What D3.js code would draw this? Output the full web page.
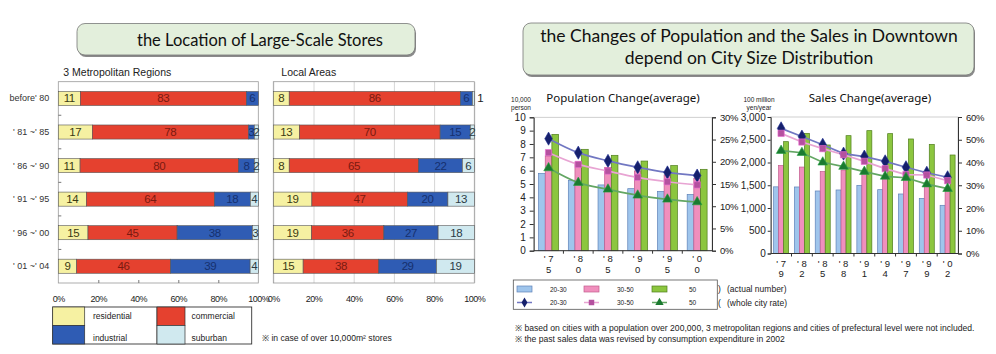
<!DOCTYPE html>
<html>
<head>
<meta charset="utf-8">
<script src="https://cdn.jsdelivr.net/npm/d3@7"></script>
<style>
  body { margin: 0; background: #fff; }
  svg { display: block; font-family: "Liberation Sans", Arial, sans-serif; }
</style>
</head>
<body>
<div id="chart"></div>
<script>
// ---- data: location of large-scale stores (%)
var periods = ["before' 80", "' 81 ~' 85", "' 86 ~' 90", "' 91 ~' 95", "' 96 ~' 00", "' 01 ~' 04"];
var locations = ["residential", "commercial", "industrial", "suburban"];
var metroShares = [[11, 83, 6, 0], [17, 78, 3, 2], [11, 80, 8, 2], [14, 64, 18, 4], [15, 45, 38, 3], [9, 46, 39, 4]];
var localShares = [[8, 86, 6, 1], [13, 70, 15, 2], [8, 65, 22, 6], [19, 47, 20, 13], [19, 36, 27, 18], [15, 38, 29, 19]];
var shareTicks = [0, 0.2, 0.4, 0.6, 0.8, 1];

// ---- data: population / sales by city size (10,000 persons)
var sizeClasses = ["20-30", "30-50", "50"];
var popYears = ["75", "80", "85", "90", "95", "00"];
var popActual2030 = [5.8, 5.28, 4.93, 4.65, 4.45, 4.22];
var popActual3050 = [7.1, 6.65, 6.25, 5.98, 5.68, 5.43];
var popActual50 = [8.72, 7.6, 7.15, 6.72, 6.38, 6.1];
var popRate2030 = [25.2, 22.05, 20.2, 18.75, 17.6, 16.9];
var popRate3050 = [22.05, 19.4, 17.9, 16.5, 15.5, 14.8];
var popRate50 = [18.6, 15.3, 13.8, 12.45, 11.55, 10.95];

var salesYears = ["79", "82", "85", "88", "91", "94", "97", "99", "02"];
var salesActual2030 = [1465, 1462, 1374, 1396, 1498, 1403, 1308, 1212, 1059];
var salesActual3050 = [1935, 1900, 1800, 1835, 1830, 1690, 1630, 1480, 1360];
var salesActual50 = [2458, 2641, 2385, 2590, 2700, 2634, 2517, 2399, 2165];
var salesRate2030 = [55.0, 51.4, 47.8, 43.9, 42.6, 40.5, 37.9, 35.5, 33.5];
var salesRate3050 = [52.8, 49.0, 46.1, 43.4, 40.5, 37.3, 34.7, 34.5, 32.0];
var salesRate50 = [45.2, 44.3, 40.1, 38.2, 36.0, 33.9, 33.3, 30.5, 28.5];

// styles
var locFill = ["#f6f1a2", "#e5412f", "#2f5cb4", "#d0e9ef"];
var locText = ["#3a3a12", "#7a1a10", "#16306e", "#2a3a44"];
var barFill = ["#9fc5ec", "#f08fbd", "#8cc63f"];
var barStroke = ["#5f82b8", "#c25c8e", "#4f7d1c"];
var lineColor = ["#7177c2", "#e8a4d3", "#63a663"];
var markColor = ["#16206c", "#b4519f", "#1b7a30"];
var markSymbol = [d3.symbolDiamond, d3.symbolSquare, d3.symbolTriangle];

var svg = d3.select('#chart').append('svg')
    .attr('width', 996).attr('height', 354);

// title boxes
function titleBox(x, y, w, h, cx, lines, lineY, size) {
    svg.append('rect')
        .attr('x', x + 1).attr('y', y + 2).attr('width', w).attr('height', h)
        .attr('rx', 8).attr('fill', '#8a8a8a');
    svg.append('rect')
        .attr('x', x).attr('y', y).attr('width', w).attr('height', h)
        .attr('rx', 8).attr('fill', '#e3efdc').attr('stroke', '#777').attr('stroke-width', 0.8);
    lines.forEach(function(t, i) {
        svg.append('text')
            .attr('x', cx).attr('y', lineY[i])
            .attr('text-anchor', 'middle').attr('dominant-baseline', 'central')
            .style('font-family', 'Lato, "Noto Sans", sans-serif').style('font-size', size + 'px')
            .attr('fill', '#111').text(t);
    });
}
titleBox(77, 23.5, 338, 31.5, 260, ["the Location of Large-Scale Stores"], [40], 16.5);
titleBox(523, 23, 451, 52, 749, ["the Changes of Population and the Sales in Downtown", "depend on City Size Distribution"], [35.8, 57.2], 17.5);

// ---- stacked 100% bars
function StackedPanel(rows, opt) {
    var data = rows.map(function(r, i) {
        var o = { period: periods[i] };
        locations.forEach(function(k, j) { o[k] = r[j]; });
        return o;
    });
    var series = d3.stack().keys(locations).offset(d3.stackOffsetExpand)(data);

    var x = d3.scaleLinear().domain([0, 1]).range([opt.left, opt.right]);
    var y = d3.scaleBand().domain(periods).range([opt.top, opt.bottom])
        .paddingInner(0.58).paddingOuter(0.29);
    var g = svg.append('g');

    if (opt.grid) {
        g.append('g')
            .attr('transform', 'translate(0,' + opt.bottom + ')')
            .call(d3.axisBottom(x).tickValues(shareTicks).tickSize(-(opt.bottom - opt.top)).tickFormat(''))
            .call(function(a) {
                a.select('.domain').remove();
                a.selectAll('line').attr('stroke', '#d6d6d6');
            });
    }

    g.append('rect')
        .attr('x', opt.left).attr('y', opt.top)
        .attr('width', opt.right - opt.left).attr('height', opt.bottom - opt.top)
        .attr('fill', 'none').attr('stroke', '#9a9a9a').attr('stroke-width', 0.8);

    if (!opt.grid) {
        // small inside ticks
        g.append('g')
            .attr('transform', 'translate(0,' + opt.bottom + ')')
            .call(d3.axisBottom(x).tickValues(shareTicks.slice(1, 5)).tickSize(-3).tickFormat(''))
            .call(function(a) { a.select('.domain').remove(); a.selectAll('line').attr('stroke', '#777'); });
        var step = y.step();
        g.selectAll('.ytick').data(periods.slice(1)).enter().append('line')
            .attr('x1', opt.left).attr('x2', opt.left + 3)
            .attr('y1', function(d) { return y(d) - step * 0.29; })
            .attr('y2', function(d) { return y(d) - step * 0.29; })
            .attr('stroke', '#777');
    }

    series.forEach(function(s, k) {
        g.selectAll(null).data(s).enter().append('rect')
            .attr('x', function(d) { return x(d[0]); })
            .attr('y', function(d) { return y(d.data.period); })
            .attr('width', function(d) { return x(d[1]) - x(d[0]); })
            .attr('height', y.bandwidth())
            .attr('fill', locFill[k]).attr('stroke', '#555').attr('stroke-width', 0.6);

        g.selectAll(null).data(s.filter(function(d) { return d.data[s.key] > 0; })).enter().append('text')
            .attr('x', function(d) {
                return d.data[s.key] <= 1 ? x(d[1]) + 3 : (x(d[0]) + x(d[1])) / 2;
            })
            .attr('y', function(d) { return y(d.data.period) + y.bandwidth() / 2; })
            .attr('text-anchor', function(d) { return d.data[s.key] <= 1 ? 'start' : 'middle'; })
            .attr('dominant-baseline', 'central')
            .style('font-size', '11.5px').style('letter-spacing', '-0.4px')
            .attr('fill', function(d) { return d.data[s.key] <= 1 ? '#222' : locText[k]; })
            .text(function(d) { return d.data[s.key]; });
    });

    g.append('g')
        .attr('transform', 'translate(0,' + opt.bottom + ')')
        .call(d3.axisBottom(x).tickValues(shareTicks).tickSize(0).tickPadding(13).tickFormat(d3.format('.0%')))
        .call(function(a) {
            a.select('.domain').remove();
            a.selectAll('text').style('font-size', '9px').style('letter-spacing', '-0.5px').attr('fill', '#222');
        });

    if (opt.showCats) {
        g.selectAll(null).data(periods).enter().append('text')
            .attr('x', opt.left - 9)
            .attr('y', function(d) { return y(d) + y.bandwidth() / 2; })
            .attr('text-anchor', 'end').attr('dominant-baseline', 'central')
            .style('font-size', '9px').attr('fill', '#333')
            .text(function(d) { return d; });
    }

    svg.append('text')
        .attr('x', opt.left + opt.titleDx).attr('y', 72)
        .attr('dominant-baseline', 'central')
        .style('font-size', '10.5px').attr('fill', '#222')
        .text(opt.title);
}

StackedPanel(metroShares, { left: 58.3, right: 258.3, top: 81.7, bottom: 283, grid: false, showCats: true, title: '3 Metropolitan Regions', titleDx: 5 });
StackedPanel(localShares, { left: 273.3, right: 474.3, top: 81.7, bottom: 283, grid: true, showCats: false, title: 'Local Areas', titleDx: 8 });

// location legend
var legCells = [
    { x: 52.7, w: 32, tx: 93, row: 0 },
    { x: 157, w: 28, tx: 191.5, row: 0 },
    { x: 52.7, w: 32, tx: 93, row: 1 },
    { x: 157, w: 28, tx: 191.5, row: 1 }
];
var legRowY = [307, 325.5], legRowH = 18.5, legTextY = [315.5, 337.5];
svg.append('rect').attr('x', 52.7).attr('y', 307).attr('width', 199).attr('height', 37)
    .attr('fill', '#fff').attr('stroke', '#333').attr('stroke-width', 0.9);
svg.append('line').attr('x1', 157).attr('x2', 157).attr('y1', 307).attr('y2', 344)
    .attr('stroke', '#333').attr('stroke-width', 0.9);
locations.forEach(function(k, i) {
    var c = legCells[i];
    svg.append('rect').attr('x', c.x).attr('y', legRowY[c.row]).attr('width', c.w).attr('height', legRowH)
        .attr('fill', locFill[i]).attr('stroke', '#333').attr('stroke-width', 0.7);
    svg.append('text').attr('x', c.tx).attr('y', legTextY[c.row]).attr('dominant-baseline', 'central')
        .style('font-size', '8.5px').attr('fill', '#222').text(k);
});
svg.append('text').attr('x', 262).attr('y', 338).attr('dominant-baseline', 'central')
    .style('font-size', '8.6px').attr('fill', '#222').text('\u203B in case of over 10,000m\u00B2 stores');

// ---- combination chart: bars (left axis) + rate lines (right axis)
function ComboChart(opt) {
    var n = opt.years.length;
    var x0 = d3.scaleBand().domain(d3.range(n)).range([opt.left, opt.right])
        .paddingInner(opt.pad).paddingOuter(opt.pad / 2);
    var x1 = d3.scaleBand().domain(d3.range(3)).range([0, x0.bandwidth()]);
    var y = d3.scaleLinear().domain([0, opt.yMax]).range([opt.bottom, opt.top]);
    var yR = d3.scaleLinear().domain([0, opt.rMax]).range([opt.bottom, opt.top]);
    var g = svg.append('g');

    g.append('rect')
        .attr('x', opt.left).attr('y', opt.top)
        .attr('width', opt.right - opt.left).attr('height', opt.bottom - opt.top)
        .attr('fill', 'none').attr('stroke', '#c4c4c4').attr('stroke-width', 0.8);

    opt.bars.forEach(function(vals, k) {
        g.selectAll(null).data(vals).enter().append('rect')
            .attr('x', function(d, i) { return x0(i) + x1(k); })
            .attr('y', function(d) { return y(d); })
            .attr('width', x1.bandwidth())
            .attr('height', function(d) { return y(0) - y(d); })
            .attr('fill', barFill[k]).attr('stroke', barStroke[k]).attr('stroke-width', 0.7);
    });

    var cx = function(d, i) { return x0(i) + x0.bandwidth() / 2; };
    opt.rates.forEach(function(vals, k) {
        var line = d3.line().x(cx).y(function(d) { return yR(d); }).curve(opt.curve);
        g.append('path').datum(vals).attr('d', line)
            .attr('fill', 'none').attr('stroke', lineColor[k]).attr('stroke-width', 1.7);
    });
    opt.rates.forEach(function(vals, k) {
        g.selectAll(null).data(vals).enter().append('path')
            .attr('transform', function(d, i) { return 'translate(' + cx(d, i) + ',' + yR(d) + ')'; })
            .attr('d', d3.symbol().type(markSymbol[k]).size(k === 0 ? 50 : 40))
            .attr('fill', markColor[k]).attr('stroke', d3.color(markColor[k]).brighter(0.8)).attr('stroke-width', 0.6);
    });

    // left axis
    g.append('g')
        .attr('transform', 'translate(' + opt.left + ',0)')
        .call(d3.axisLeft(y).ticks(opt.yTickCount).tickFormat(opt.yFormat).tickSize(opt.tickLen).tickPadding(opt.tickPad))
        .call(function(a) {
            a.selectAll('path,line').attr('stroke', '#333');
            a.selectAll('text').style('font-size', '10px').attr('fill', '#222');
        });
    // right axis
    g.append('g')
        .attr('transform', 'translate(' + opt.right + ',0)')
        .call(d3.axisRight(yR).ticks(6).tickFormat(function(d) { return d + '%'; }).tickSize(4).tickPadding(4))
        .call(function(a) {
            a.selectAll('path,line').attr('stroke', '#333');
            a.selectAll('text').style('font-size', '9.5px').style('letter-spacing', '-0.3px').attr('fill', '#222');
        });
    // bottom axis: line, separators, two-line year labels
    g.append('line').attr('x1', opt.left).attr('x2', opt.right)
        .attr('y1', opt.bottom).attr('y2', opt.bottom).attr('stroke', '#333');
    g.selectAll(null).data(d3.range(1, n)).enter().append('line')
        .attr('x1', function(i) { return x0(i) - x0.step() * opt.pad / 2; })
        .attr('x2', function(i) { return x0(i) - x0.step() * opt.pad / 2; })
        .attr('y1', opt.bottom).attr('y2', opt.bottom + 3).attr('stroke', '#333');
    g.append('g')
        .attr('transform', 'translate(0,' + opt.bottom + ')')
        .call(d3.axisBottom(x0).tickSize(0).tickPadding(opt.xPad).tickFormat(function(i) { return opt.years[i]; }))
        .call(function(a) {
            a.select('.domain').remove();
            a.selectAll('text').each(function(i) {
                var t = d3.select(this), yr = opt.years[i];
                t.text(null).style('font-size', '9.5px').attr('fill', '#222');
                t.append('tspan').attr('x', 0).text("' " + yr[0]);
                t.append('tspan').attr('x', 0).attr('dy', '10.2px').text(yr[1]);
            });
        });

    svg.append('text')
        .attr('x', opt.titleX).attr('y', 97).attr('text-anchor', 'middle').attr('dominant-baseline', 'central')
        .style('font-family', '"Noto Sans", sans-serif').style('font-size', '11.5px').attr('fill', '#111')
        .text(opt.title);
    opt.unit.forEach(function(u, i) {
        svg.append('text')
            .attr('x', opt.unitX).attr('y', 99.5 + i * 8).attr('text-anchor', 'middle').attr('dominant-baseline', 'central')
            .style('font-size', '6.5px').attr('fill', '#222').text(u);
    });
}

ComboChart({
    years: popYears, left: 533.7, right: 712, top: 117.3, bottom: 250.7, pad: 0.33,
    yMax: 10, yTickCount: 10, yFormat: d3.format('d'), rMax: 30, tickLen: 4, tickPad: 4, xPad: 5,
    bars: [popActual2030, popActual3050, popActual50],
    rates: [popRate2030, popRate3050, popRate50],
    curve: d3.curveMonotoneX,
    title: 'Population Change(average)', titleX: 623,
    unit: ['10,000', 'person'], unitX: 521
});
ComboChart({
    years: salesYears, left: 770.7, right: 958, top: 117, bottom: 253.5, pad: 0.28,
    yMax: 3000, yTickCount: 6, yFormat: d3.format(','), rMax: 60, tickLen: 3, tickPad: 2, xPad: 6.5,
    bars: [salesActual2030, salesActual3050, salesActual50],
    rates: [salesRate2030, salesRate3050, salesRate50],
    curve: d3.curveLinear,
    title: 'Sales Change(average)', titleX: 870,
    unit: ['100 million', 'yen/year'], unitX: 759
});

// ---- size-class legend
svg.append('rect').attr('x', 513.3).attr('y', 280).attr('width', 204).attr('height', 29.3)
    .attr('fill', '#fff').attr('stroke', '#555').attr('stroke-width', 0.8);
var legX = [517, 584, 652], legTx = [550, 617, 689];
sizeClasses.forEach(function(c, k) {
    svg.append('rect').attr('x', legX[k]).attr('y', 286).attr('width', 15).attr('height', 6)
        .attr('fill', barFill[k]).attr('stroke', barStroke[k]).attr('stroke-width', 0.7);
    svg.append('line').attr('x1', legX[k]).attr('x2', legX[k] + 15).attr('y1', 302.5).attr('y2', 302.5)
        .attr('stroke', lineColor[k]).attr('stroke-width', 1.5);
    svg.append('path').attr('transform', 'translate(' + (legX[k] + 7.5) + ',302.5)')
        .attr('d', d3.symbol().type(markSymbol[k]).size(30)).attr('fill', markColor[k]);
    [289, 302.5].forEach(function(ty) {
        svg.append('text').attr('x', legTx[k]).attr('y', ty).attr('dominant-baseline', 'central')
            .style('font-size', '6.5px').attr('fill', '#222').text(c);
    });
});
svg.append('text').attr('x', 718).attr('y', 289).attr('dominant-baseline', 'central')
    .style('font-size', '8.5px').attr('fill', '#222').text(')');
svg.append('text').attr('x', 718).attr('y', 302.5).attr('dominant-baseline', 'central')
    .style('font-size', '8.5px').attr('fill', '#222').text('(');
svg.append('text').attr('x', 727).attr('y', 289).attr('dominant-baseline', 'central')
    .style('font-size', '8.5px').attr('fill', '#222').text('(actual number)');
svg.append('text').attr('x', 727).attr('y', 302.5).attr('dominant-baseline', 'central')
    .style('font-size', '8.5px').attr('fill', '#222').text('(whole city rate)');

// footnotes
var notes = [
    '\u203B based on cities with a population over 200,000, 3 metropolitan regions and cities of prefectural level were not included.',
    '\u203B the past sales data was revised by consumption expenditure in 2002'
];
notes.forEach(function(t, i) {
    svg.append('text').attr('x', 515).attr('y', 328 + i * 10.5).attr('dominant-baseline', 'central')
        .style('font-size', '8.6px').attr('fill', '#222').text(t);
});
</script>
</body>
</html>
